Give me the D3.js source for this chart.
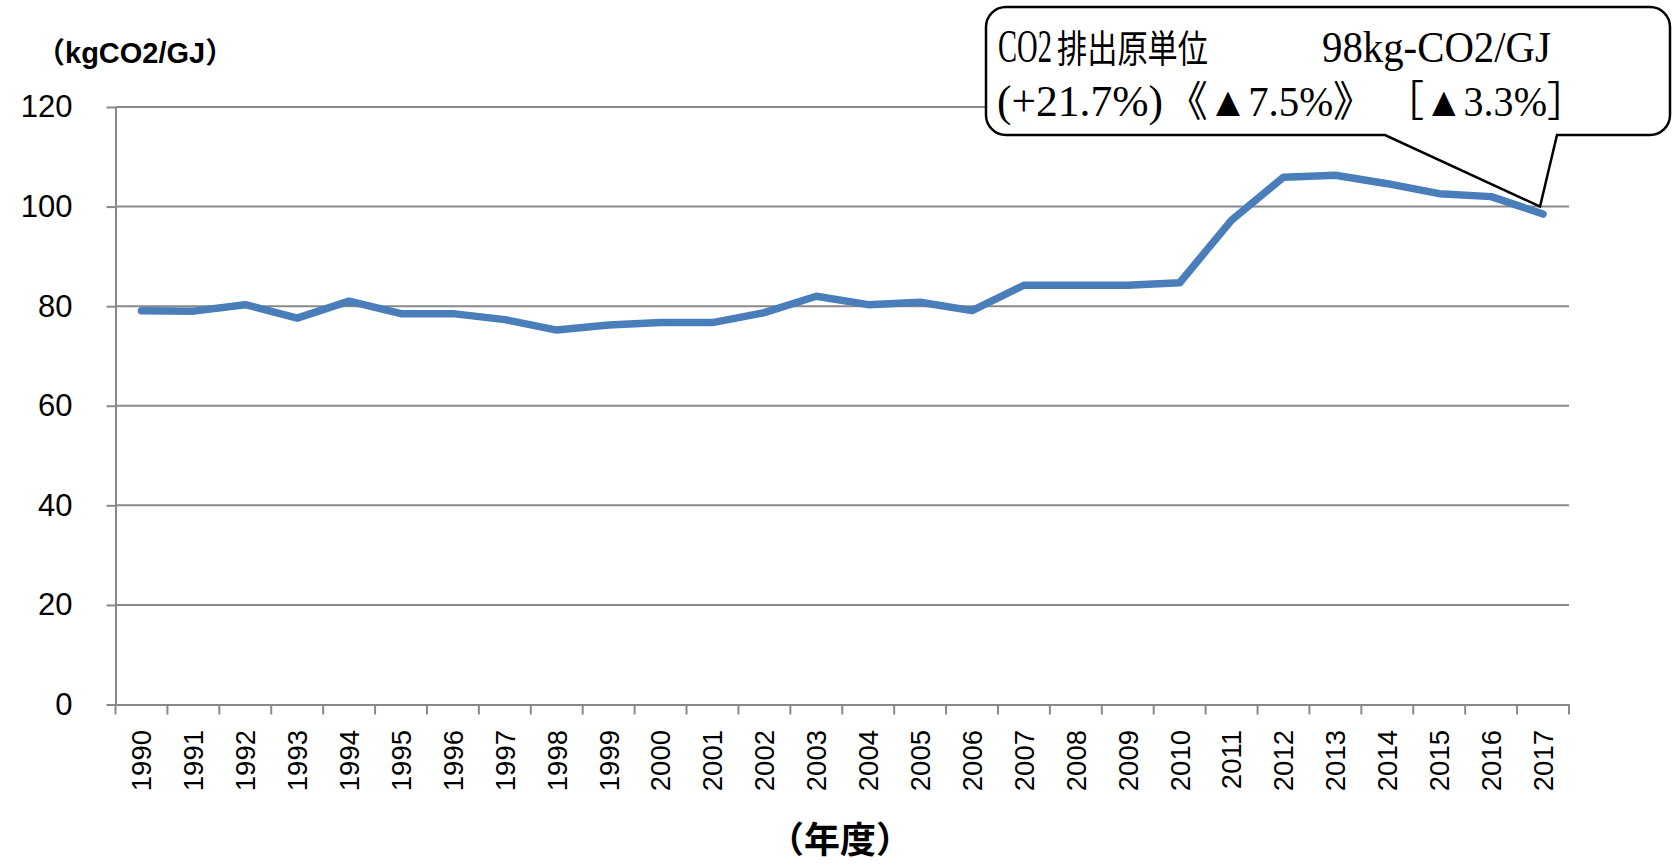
<!DOCTYPE html>
<html>
<head>
    <meta charset="utf-8">
    <script src="https://d3js.org/d3.v7.min.js"></script>
    <style>
        body { margin: 0; background: #fff; font-family: "Liberation Sans", Arial, sans-serif; }
        .grid { stroke: #898989; stroke-width: 2px; }
        .axis path, .axis line { stroke: #898989; stroke-width: 2px; }
        .series { fill: none; stroke: #4a7ebb; stroke-width: 7.5px; stroke-linejoin: round; stroke-linecap: round; }
        .callout { fill: #fff; stroke: #000; stroke-width: 2.5px; }
        .note { font-family: "Liberation Serif", "Times New Roman", "Noto Sans CJK JP", serif; fill: #000; }
    </style>
</head>
<body>
    <svg width="1676" height="866"></svg>
    <script>
        // fiscal years and CO2 emission intensity (kgCO2/GJ)
        const years = ["1990", "1991", "1992", "1993", "1994", "1995", "1996", "1997", "1998", "1999",
                       "2000", "2001", "2002", "2003", "2004", "2005", "2006", "2007", "2008", "2009",
                       "2010", "2011", "2012", "2013", "2014", "2015", "2016", "2017"];
        const intensity = [79.1, 79.0, 80.3, 77.6, 81.0, 78.5, 78.5, 77.3, 75.2, 76.2,
                           76.7, 76.7, 78.7, 82.0, 80.3, 80.8, 79.1, 84.2, 84.2, 84.2,
                           84.7, 97.3, 105.9, 106.3, 104.6, 102.6, 102.0, 98.5];
        const yTicks = [0, 20, 40, 60, 80, 100, 120];
        const yUnit = "（kgCO2/GJ）";
        const xUnit = "（年度）";
        const noteLine1 = ["CO2", "排出原単位", "98kg-CO2/GJ"];
        const noteLine2 = ["(+21.7%)", "《▲7.5%》", "［▲3.3%］"];

        const plotLeft = 115.5, plotRight = 1569, plotTop = 107, plotBottom = 704.5;

        let svg = d3.select("svg");
        let x = d3.scaleBand().domain(years).range([plotLeft, plotRight]);
        let y = d3.scaleLinear().domain([0, 120]).range([plotBottom, plotTop]);

        // horizontal gridlines
        svg.selectAll(".grid")
            .data(yTicks.filter(d => d > 0))
            .enter().append("line")
            .attr("class", "grid")
            .attr("x1", plotLeft).attr("x2", plotRight)
            .attr("y1", d => y(d)).attr("y2", d => y(d));

        // y axis
        let yAxis = svg.append("g")
            .attr("class", "axis")
            .attr("transform", `translate(${plotLeft},0)`)
            .call(d3.axisLeft(y).tickValues(yTicks).tickSize(9).tickPadding(34).tickSizeOuter(0));
        yAxis.selectAll("text")
            .style("font-size", "31px")
            .style("font-family", "'Liberation Sans', Arial, sans-serif")
            .attr("fill", "#000");

        // x axis: baseline, ticks on category boundaries, rotated labels
        let xAxis = svg.append("g")
            .attr("class", "axis")
            .attr("transform", `translate(0,${plotBottom})`)
            .call(d3.axisBottom(x).tickSize(0).tickPadding(0).tickSizeOuter(0));
        xAxis.selectAll(".tick text")
            .attr("transform", "rotate(-90)")
            .attr("x", -25.5)
            .attr("y", 0)
            .attr("dy", "0.36em")
            .attr("text-anchor", "end")
            .style("font-size", "27.5px")
            .style("font-family", "'Liberation Sans', Arial, sans-serif")
            .attr("fill", "#000");
        xAxis.selectAll(".bound")
            .data(years.map(d => x(d)).concat([plotRight]))
            .enter().append("line")
            .attr("class", "bound")
            .attr("x1", d => d).attr("x2", d => d)
            .attr("y1", 0).attr("y2", 10);

        // series line
        let line = d3.line()
            .x((d, i) => x(years[i]) + x.bandwidth() / 2)
            .y(d => y(d));
        svg.append("path")
            .datum(intensity)
            .attr("class", "series")
            .attr("d", line);

        // axis titles
        svg.append("text")
            .attr("x", 36).attr("y", 63)
            .style("font-family", "'Liberation Sans', 'Noto Sans CJK JP', sans-serif")
            .style("font-weight", "bold")
            .style("font-size", "29px")
            .text(yUnit);
        svg.append("text")
            .attr("x", 840).attr("y", 853)
            .attr("text-anchor", "middle")
            .style("font-family", "'Noto Sans CJK JP', sans-serif")
            .style("font-weight", "bold")
            .style("font-size", "36px")
            .text(xUnit);

        // callout pointing at the last year
        const bx0 = 986, bx1 = 1670, by0 = 7, by1 = 135, r = 20;
        let tipX = x(years[years.length - 1]) + x.bandwidth() / 2 - 3;
        let tipY = y(100);
        let p = d3.path();
        p.moveTo(bx0 + r, by0);
        p.lineTo(bx1 - r, by0);
        p.arcTo(bx1, by0, bx1, by0 + r, r);
        p.lineTo(bx1, by1 - r);
        p.arcTo(bx1, by1, bx1 - r, by1, r);
        p.lineTo(1557, by1);
        p.lineTo(tipX, tipY);
        p.lineTo(1385, by1);
        p.lineTo(bx0 + r, by1);
        p.arcTo(bx0, by1, bx0, by1 - r, r);
        p.lineTo(bx0, by0 + r);
        p.arcTo(bx0, by0, bx0 + r, by0, r);
        p.closePath();
        svg.append("path").attr("class", "callout").attr("d", p.toString());

        // callout text: each piece squeezed horizontally to its width
        const notePos = [
            {t: noteLine1[0], x: 998, y: 62, w: 54, s: 46},
            {t: noteLine1[1], x: 1057, y: 62, w: 151, s: 38},
            {t: noteLine1[2], x: 1322, y: 62, w: 229, s: 45},
            {t: noteLine2[0], x: 997, y: 116, w: 166, s: 44},
            {t: noteLine2[1], x: 1167, y: 116, w: 207, s: 42},
            {t: noteLine2[2], x: 1384, y: 116, w: 203, s: 42}
        ];
        svg.selectAll(".note")
            .data(notePos)
            .enter().append("text")
            .attr("class", "note")
            .style("font-size", d => d.s + "px")
            .text(d => d.t)
            .attr("transform", function(d) {
                let natural = this.getComputedTextLength();
                return `translate(${d.x},${d.y}) scale(${d.w / natural},1)`;
            });
    </script>
</body>
</html>
